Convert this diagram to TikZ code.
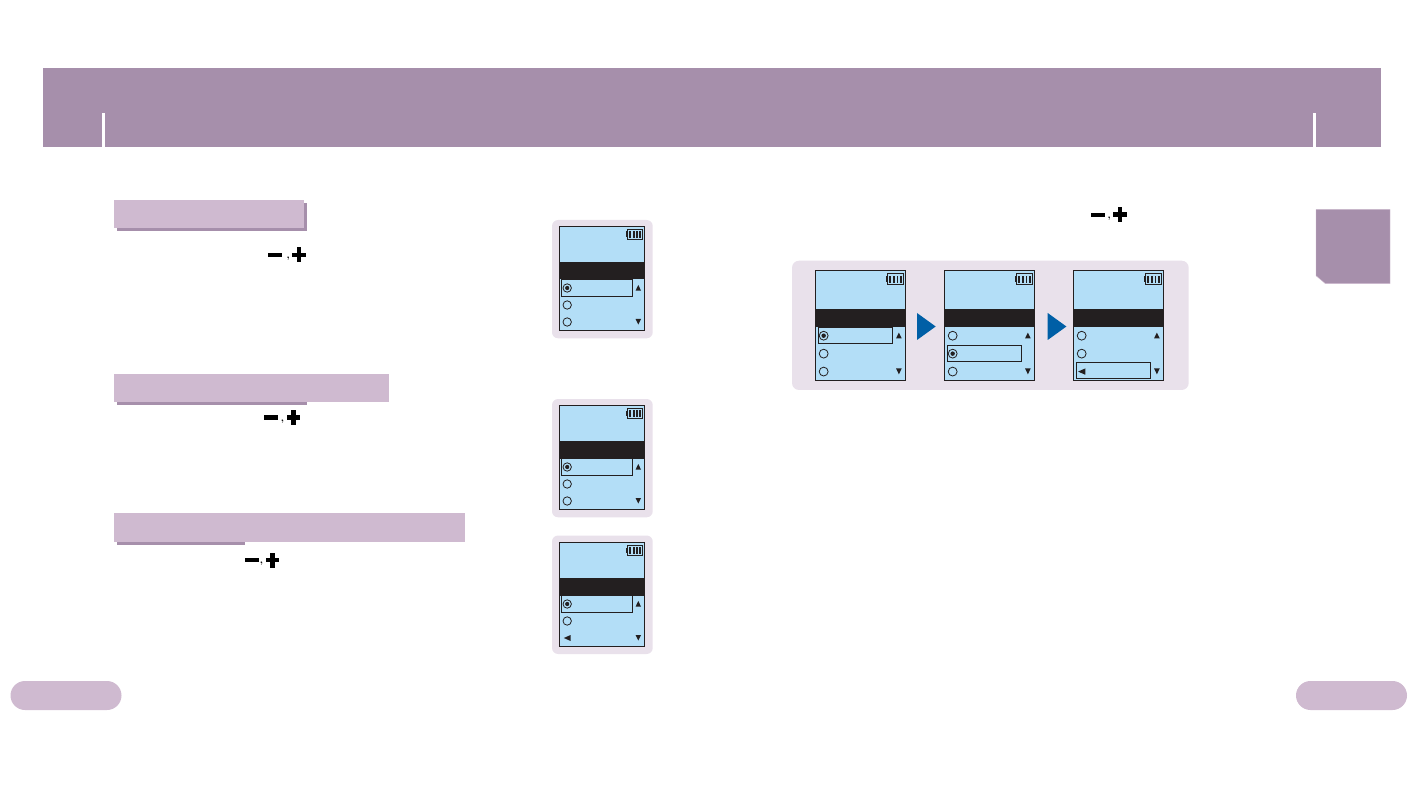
\documentclass[tikz,border=0pt]{standalone}
\definecolor{headerpurple}{RGB}{166,143,171}
\definecolor{barlilac}{RGB}{207,186,208}
\definecolor{panelgray}{RGB}{233,225,235}
\definecolor{lcdblue}{RGB}{179,222,247}
\definecolor{bandblack}{RGB}{35,31,32}
\definecolor{nextblue}{RGB}{0,95,166}
\tikzset{
  lcdline/.style={draw=bandblack, line width=0.9pt},
  radiobtn/.style={draw=bandblack, line width=0.8pt, fill=lcdblue},
  markfill/.style={fill=bandblack},
  pics/minusplus/.style={code={
    \fill[black] (0,-2.1) rectangle (13.5,2.1);
    \fill[black] (#1+4.5,-7.5) rectangle (#1+9,7.5);
    \fill[black] (#1,-2.3) rectangle (#1+13.5,2.3);
    \node[font=\fontsize{10}{10}\selectfont\bfseries, inner sep=0pt] (comma) at (#1-4.2,4) {,};
  }}
}

\begin{document}
\begin{tikzpicture}[x=1pt,y=-1pt]
\useasboundingbox (0,0) rectangle (1417,794);

% Header
\fill[headerpurple] (43,68) rectangle (1381,147);
\fill[white] (102,113) rectangle (105,147);
\fill[white] (1313,113) rectangle (1316,147);

% Side tab
\fill[headerpurple, draw=barlilac, line width=0.4pt]
  (1316,209.5) -- (1390,209.5) -- (1390,283.7) -- (1325.5,283.7) -- (1316,275.7) -- cycle;

% Section bars
\fill[headerpurple] (117,203) rectangle (307,231);
\fill[barlilac] (114,200) rectangle (304,228);
\fill[headerpurple] (117,380) rectangle (307,405);
\fill[barlilac] (114,374) rectangle (389,402);
\fill[headerpurple] (117,520) rectangle (245,545);
\fill[barlilac] (114,513) rectangle (465,542);

% Button marks
\pic at (268,255) {minusplus=24.3};
\pic at (264,417.5) {minusplus=22.7};
\pic at (245,560) {minusplus=20.7};
\pic at (1091,214.7) {minusplus=22.3};

% Page pills
\fill[barlilac, rounded corners=14.5pt] (10.5,681) rectangle (121.5,710);
\fill[barlilac, rounded corners=14.5pt] (1296,681) rectangle (1407,710);

% Panels behind the screens
\fill[panelgray, rounded corners=6pt] (552,220) rectangle (652.7,338.3);
\fill[panelgray, rounded corners=6pt] (552,399) rectangle (652.7,517.3);
\fill[panelgray, rounded corners=6pt] (552,535.5) rectangle (652.7,654);
\fill[panelgray, rounded corners=7pt] (792,260.7) rectangle (1188.7,390);

% Screens: left/top/xscale/yscale/box row/dot row/arrow in row 3/box inset/box half height/band top
\foreach \px/\py/\psx/\psy/\selrow/\dotrow/\lastarrow/\selx/\selh/\bandtop in {
    559.3/226/1/1/1/1/0/2/8.6/36,
    559.3/405/1/1/1/1/0/2/8.6/36,
    559.3/542/1/1/1/1/1/2/8.6/36,
    815.3/270.3/1.058/1.055/1/1/0/2.8/7.8/36.7,
    944.3/270.3/1.058/1.055/2/2/0/2.8/7.8/36.7,
    1073.3/270.3/1.058/1.055/3/0/1/2.8/7.8/36.7} {
  \begin{scope}[shift={(\px,\py)}, xscale=\psx, yscale=\psy]
    \fill[lcdblue] (0,0) rectangle (85.4,104.7);
    \fill[bandblack] (0,\bandtop) rectangle (85.4,53.5);
    \draw[lcdline] (0,0) rectangle (85.4,104.7);
    % Battery
    \draw[bandblack, line width=0.8pt] (68,3.3) rectangle (83.4,13.3);
    \fill[bandblack] (66.5,5.5) rectangle (68,11);
    \foreach \bx/\bw in {70/2, 73.4/1.8, 76.8/1.8, 80/1.6}
      \fill[bandblack] (\bx,5) rectangle (\bx+\bw,11.6);
    % Scroll marks
    \fill[markfill] (79,59) -- (81.7,64.6) -- (76.3,64.6) -- cycle;
    \fill[markfill] (79,98.6) -- (81.7,93) -- (76.3,93) -- cycle;
    % Rows
    \foreach \row/\ry/\by in {1/62/62, 2/79/79, 3/96/94.8} {
      \ifnum\row=3 \ifnum\lastarrow=1
        \fill[markfill] (4.5,\ry) -- (11.3,\ry-3) -- (11.3,\ry+3) -- cycle;
      \else
        \draw[radiobtn] (7.9,\ry) circle (4.2);
      \fi \else
        \draw[radiobtn] (7.9,\ry) circle (4.2);
      \fi
      \ifnum\row=\dotrow
        \fill[bandblack] (7.9,\ry) circle (2.1);
      \fi
      \ifnum\row=\selrow
        \draw[lcdline] (\selx,\by-\selh) rectangle (73.3,\by+\selh);
      \fi
    }
  \end{scope}
}

% Step arrows
\fill[nextblue] (917,313) -- (935.7,326.5) -- (917,340) -- cycle;
\fill[nextblue] (1047.7,313) -- (1066.4,326.5) -- (1047.7,340) -- cycle;

\end{tikzpicture}
\end{document}
